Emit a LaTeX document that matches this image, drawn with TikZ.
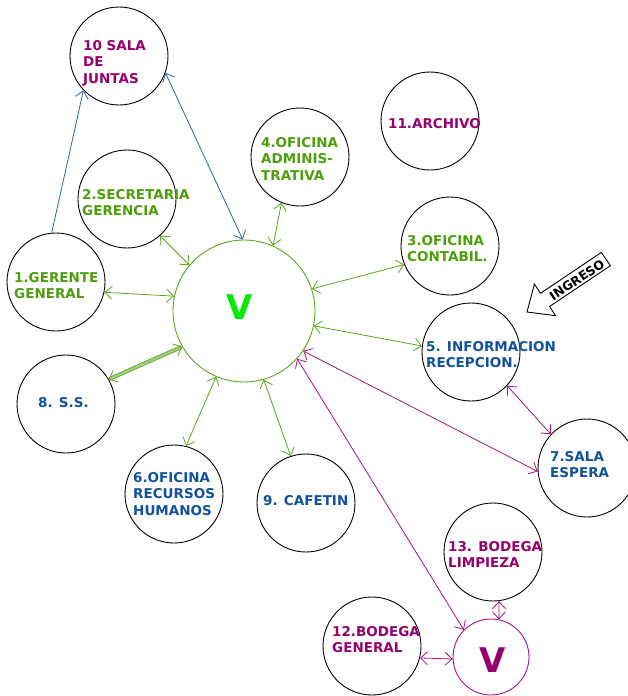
\documentclass[tikz,border=0pt]{standalone}
\usepackage{fontspec}
\setmainfont{DejaVu Sans}
\usetikzlibrary{arrows.meta}

\definecolor{verde}{RGB}{77,158,12}
\definecolor{azul}{RGB}{16,82,155}
\definecolor{morado}{RGB}{150,0,110}
\definecolor{lverde}{RGB}{90,165,30}
\definecolor{lazul}{RGB}{35,100,175}
\definecolor{lmorado}{RGB}{165,20,130}
\definecolor{vverde}{RGB}{0,235,0}

\begin{document}
\begin{tikzpicture}[
        x=1pt, y=-1pt,
        sala/.style={circle, draw, line width=0.9pt, minimum size=98pt, inner sep=0pt},
        rotulo/.style={anchor=north west, inner sep=0pt, align=left, font=\fontsize{13.5}{16.5}\selectfont\bfseries},
        letra/.style={inner sep=0pt, font=\fontsize{34}{34}\selectfont\bfseries},
        lazo/.style={<->, line width=0.8pt},
        >={Straight Barb[length=7pt,width=13pt]}
    ]
    \useasboundingbox (0,0) rectangle (628,696);

    % Salas
    \node[sala] (c10) at (119,56) {};
    \node[sala] (c11) at (430,121) {};
    \node[sala] (c4) at (300,157) {};
    \node[sala] (c2) at (127,199) {};
    \node[sala] (c3) at (450,246) {};
    \node[sala] (c1) at (56,282) {};
    \node[sala] (c8) at (66,404) {};
    \node[sala] (c5) at (471,352) {};
    \node[sala] (c7) at (587,468) {};
    \node[sala] (c6) at (174,494) {};
    \node[sala] (c9) at (306,503) {};
    \node[sala] (c13) at (493,552) {};
    \node[sala] (c12) at (372,646) {};

    % Vestibulos
    \node[sala, draw=lverde, minimum size=142pt] (vg) at (244,311) {};
    \node[sala, draw=lmorado, minimum size=76pt] (vm) at (491,657) {};
    \node[letra, text=vverde] (vgl) at (240,307) {V};
    \node[letra, text=morado] (vml) at (493,660) {V};

    % Rotulos
    \node[rotulo, text=morado] (t10) at (83,40) {10 SALA\\DE\\JUNTAS};
    \node[rotulo, text=morado] (t11) at (388,118) {11.ARCHIVO};
    \node[rotulo, text=verde] (t4) at (261,137) {4.OFICINA\\ADMINIS-\\TRATIVA};
    \node[rotulo, text=verde] (t2) at (82,189) {2.SECRETARIA\\GERENCIA};
    \node[rotulo, text=verde] (t3) at (407,235) {3.OFICINA\\CONTABIL.};
    \node[rotulo, text=verde] (t1) at (14,272) {1.GERENTE\\GENERAL};
    \node[rotulo, text=azul] (t8) at (38,397) {8. S.S.};
    \node[rotulo, text=azul] (t5) at (426,341) {5. INFORMACION\\RECEPCION.};
    \node[rotulo, text=azul] (t7) at (550,451) {7.SALA\\ESPERA};
    \node[rotulo, text=azul] (t6) at (133,472) {6.OFICINA\\RECURSOS\\HUMANOS};
    \node[rotulo, text=azul] (t9) at (263,495) {9. CAFETIN};
    \node[rotulo, text=morado] (t13) at (448,541) {13. BODEGA\\LIMPIEZA};
    \node[rotulo, text=morado] (t12) at (332,626) {12.BODEGA\\GENERAL};

    % Entrada
    \draw[line width=0.9pt, line join=miter] (527,312) -- (555.6,315.7) -- (549.5,306.5) -- (610.4,265.7)
        -- (601.4,252.4) -- (540.5,293.3) -- (534.4,284.1) -- cycle;
    \node[inner sep=0pt, rotate=34, font=\fontsize{12.5}{14}\selectfont\bfseries] (ing) at (577,280) {INGRESO};

    % Enlaces azules
    \draw[->, line width=0.8pt, lazul] (c1.95) -- (c10.224);
    \draw[lazo, lazul] (c10.340) -- (vg.91);

    % Enlaces verdes
    \draw[lazo, lverde] (c4.248) -- (vg.66);
    \draw[lazo, lverde] (c2.312) -- (vg.140);
    \draw[lazo, lverde] (c3.202) -- (vg.18);
    \draw[lazo, lverde] (c1.348) -- (vg.168);
    \draw[lazo, lverde, double=lverde!55, double distance=2.2pt] (c8.30) -- (vg.210);
    \draw[lazo, lverde] (c5.173) -- (vg.348);
    \draw[lazo, lverde] (c6.76) -- (vg.247);
    \draw[lazo, lverde] (c9.108) -- (vg.286);

    % Enlaces morados
    \draw[lazo, lmorado] (vg.326) -- (c7.184);
    \draw[lazo, lmorado] (vg.318) -- (vm.135);
    \draw[lazo, lmorado] (c5.317) -- (c7.137);
    \draw[lazo, lmorado] (c13.277) -- (vm.78);
    \draw[lazo, lmorado] (c12.346) -- (vm.183);

\end{tikzpicture}
\end{document}
